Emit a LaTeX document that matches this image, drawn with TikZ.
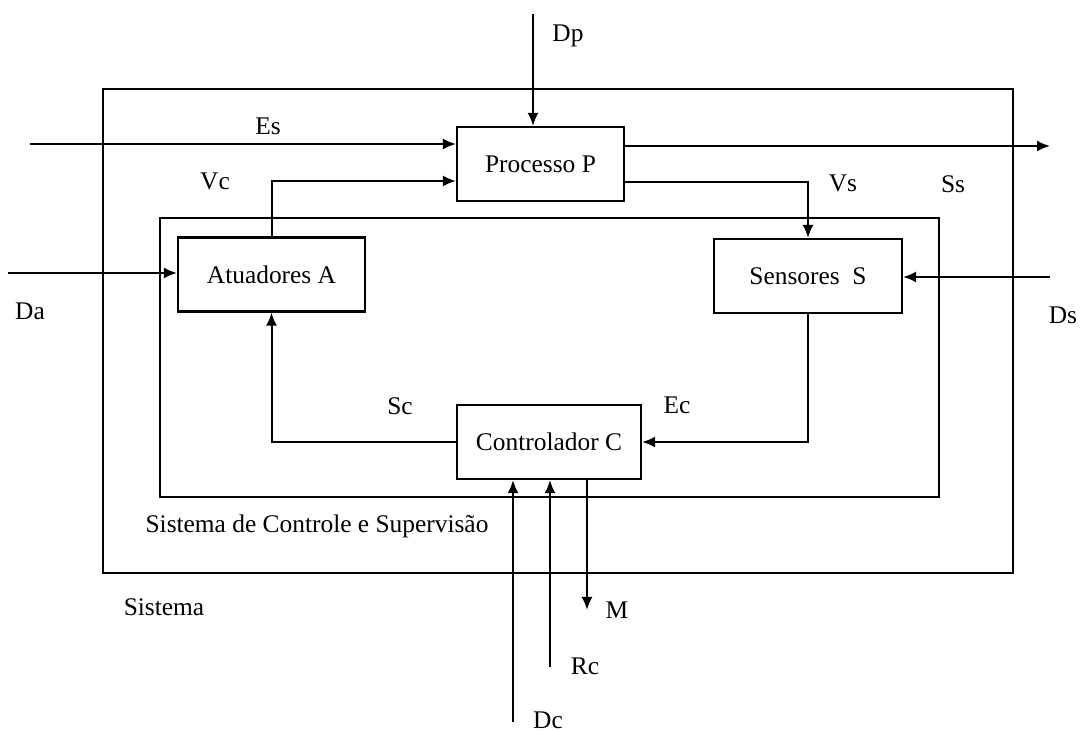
\documentclass[tikz,border=0pt]{standalone}
\usepackage{fontspec}
\setmainfont{Liberation Serif}
\usetikzlibrary{arrows.meta}
\begin{document}
\begin{tikzpicture}[x=0.5pt,y=-0.5pt,
  font=\fontsize{12.7}{14}\selectfont,
  blk/.style={draw,line width=1.1pt,minimum width=#1,minimum height=37pt,inner sep=0pt,fill=white},
  frame/.style={draw,line width=1.1pt},
  arr/.style={line width=1pt,-{Latex[length=6.5pt,width=5.5pt]}},
  lbl/.style={inner sep=0pt}]
\useasboundingbox (0,0) rectangle (1083,731);
% frames
\draw[frame] (103,89) rectangle (1013,573);
\draw[frame] (160,218) rectangle (939,497);
% blocks
\node[blk=83.5pt] (P) at (540.5,164) {Processo P};
\node[blk=93.5pt] (A) at (271.5,274.5) {Atuadores A};
\node[blk=94pt] (S) at (808,276) {Sensores\ \ S};
\node[blk=92pt] (C) at (549,442) {Controlador C};
% coordinates
\coordinate (dpin) at (533,14);
\coordinate (esin) at (30,144);
\coordinate (ssout) at (1050,146);
\coordinate (vsk) at (808,182);
\coordinate (vck) at (271.5,181);
\coordinate (dain) at (8,273);
\coordinate (dsin) at (1050,277);
\coordinate (dcin) at (513,722);
\coordinate (rcin) at (550,667);
\coordinate (mout) at (587,610);
% connectors
\draw[arr] (dpin) -- (dpin |- P.north);
\draw[arr] (esin) -- (esin -| P.west);
\draw[arr] (ssout -| P.east) -- (ssout);
\draw[arr] (vsk -| P.east) -- (vsk) -- (S.north);
\draw[arr] (A.north) -- (vck) -- (vck -| P.west);
\draw[arr] (dain) -- (dain -| A.west);
\draw[arr] (dsin) -- (dsin -| S.east);
\draw[arr] (C.west) -- (C.west -| A.south) -- (A.south);
\draw[arr] (S.south) -- (S.south |- C.east) -- (C.east);
\draw[arr] (dcin) -- (dcin |- C.south);
\draw[arr] (rcin) -- (rcin |- C.south);
\draw[arr] (mout |- C.south) -- (mout);
% labels
\node[lbl] (lDp) at (568,36) {Dp};
\node[lbl] (lEs) at (268,126) {Es};
\node[lbl] (lVc) at (215,181) {Vc};
\node[lbl] (lVs) at (843,183) {Vs};
\node[lbl] (lSs) at (953,184) {Ss};
\node[lbl] (lDa) at (30,311) {Da};
\node[lbl] (lDs) at (1063,315) {Ds};
\node[lbl] (lSc) at (400,406) {Sc};
\node[lbl] (lEc) at (677,405) {Ec};
\node[lbl] (lM) at (617,610) {M};
\node[lbl] (lRc) at (585,666) {Rc};
\node[lbl] (lDc) at (548,720) {Dc};
\node[lbl] (lSCS) at (317,526) {Sistema de Controle e Supervisão};
\node[lbl] (lSis) at (164,607) {Sistema};
\end{tikzpicture}
\end{document}
